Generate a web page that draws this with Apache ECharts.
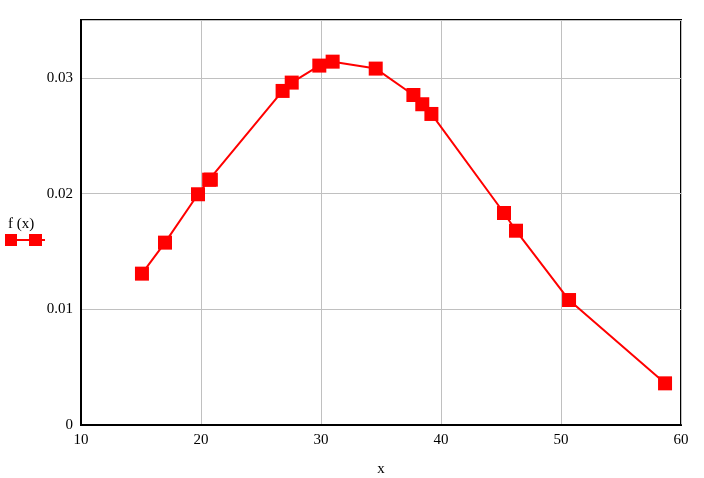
<!DOCTYPE html>
<html>
<head>
<meta charset="utf-8">
<script src="https://cdn.jsdelivr.net/npm/echarts@6/dist/echarts.min.js"></script>
<style>html,body{margin:0;padding:0;background:#fff;}#c{width:704px;height:478px;}</style>
</head>
<body>
<div id="c"></div>
<script>
const xValues = [15.08, 17.0, 19.75, 20.68, 20.82, 26.8, 27.56, 29.86, 30.97, 34.56, 37.7, 38.44, 39.2, 45.25, 46.25, 50.67, 58.67];
const fValues = [0.01308, 0.01576, 0.01994, 0.0212, 0.0212, 0.02887, 0.02959, 0.03106, 0.0314, 0.0308, 0.02852, 0.02772, 0.02688, 0.01832, 0.01679, 0.0108, 0.0036];
const xTicks = [10, 20, 30, 40, 50, 60];
const yTicks = ['0', '0.01', '0.02', '0.03'];
const seriesName = 'f (x)';
const xName = 'x';

const FONT = '"Liberation Serif", "Times New Roman", serif';
const chart = echarts.init(document.getElementById('c'), null, {renderer: 'canvas'});
const data = xValues.map((x, i) => [x, fValues[i]]);
chart.setOption({
  animation: false,
  grid: {left: 81, right: 23, top: 20, bottom: 53, outerBoundsMode: 'none', containLabel: false,
    show: true, borderColor: '#000', borderWidth: 2, backgroundColor: 'transparent'},
  xAxis: {
    type: 'value', min: 10, max: 60, interval: 10,
    name: xName, nameLocation: 'middle', nameGap: 37,
    nameTextStyle: {fontFamily: FONT, fontSize: 15, color: '#000'},
    axisLine: {show: true, onZero: false, lineStyle: {color: '#000', width: 2}},
    axisTick: {show: false},
    axisLabel: {fontFamily: FONT, fontSize: 15, color: '#000', margin: 8,
      formatter: v => xTicks.includes(Math.round(v)) ? String(Math.round(v)) : ''},
    splitLine: {show: true, lineStyle: {color: '#c0c0c0', width: 1}}
  },
  yAxis: {
    type: 'value', min: 0, max: 0.035, interval: 0.01,
    axisLine: {show: true, onZero: false, lineStyle: {color: '#000', width: 2}},
    axisTick: {show: false},
    axisLabel: {fontFamily: FONT, fontSize: 15, color: '#000', margin: 8,
      formatter: v => { const i = Math.round(v / 0.01); return (Math.abs(v - i * 0.01) < 1e-9 && i < yTicks.length) ? yTicks[i] : ''; }},
    splitLine: {show: true, lineStyle: {color: '#c0c0c0', width: 1}}
  },
  graphic: [
    {type: 'text', left: 8, top: 217, style: {text: seriesName, font: '15px ' + FONT, fill: '#000'}},
    {type: 'line', shape: {x1: 5, y1: 240, x2: 45, y2: 240}, style: {stroke: '#ff0000', lineWidth: 2}},
    {type: 'rect', shape: {x: 5, y: 234, width: 12, height: 12}, style: {fill: '#ff0000'}},
    {type: 'rect', shape: {x: 29, y: 234, width: 13, height: 12}, style: {fill: '#ff0000'}}
  ],
  series: [{
    name: seriesName, type: 'line', data: data,
    symbol: 'rect', symbolSize: 14, showAllSymbol: true,
    lineStyle: {color: '#ff0000', width: 2},
    itemStyle: {color: '#ff0000'}
  }]
});
</script>
</body>
</html>
